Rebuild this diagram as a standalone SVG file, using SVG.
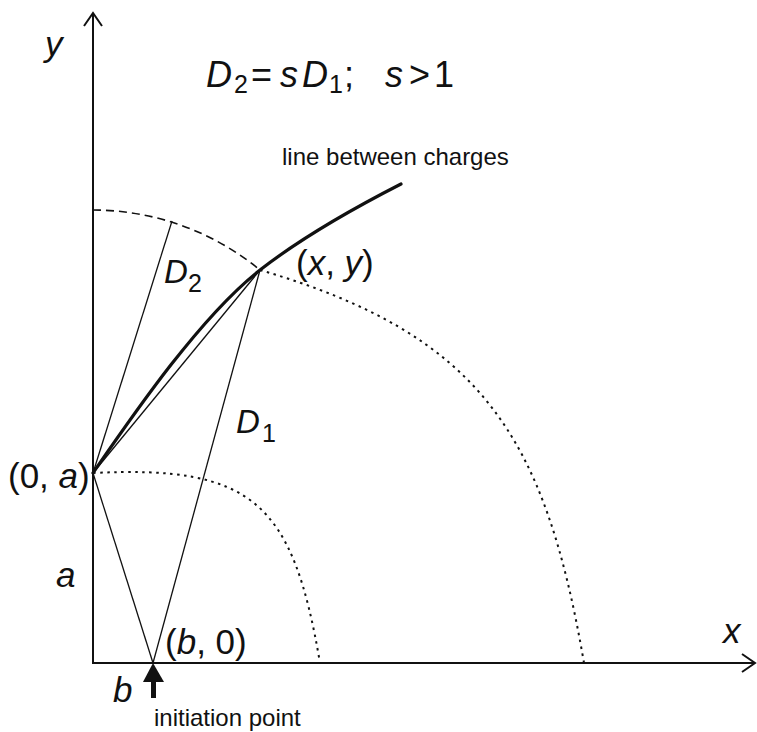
<svg xmlns="http://www.w3.org/2000/svg" width="757" height="732" viewBox="0 0 757 732">
<style>
text{font-family:"Liberation Sans",Arial,sans-serif;fill:#111}
.lab{font-size:35px}
.f{font-size:36px}
.g{font-size:33px}
.sub{font-size:25px;font-style:normal}
.i{font-style:italic}
.note{font-size:24px}
.axis{stroke:#111;stroke-width:2;fill:none}
.thin{stroke:#111;stroke-width:1.3;fill:none}
.thick{stroke:#111;stroke-width:3.2;fill:none;stroke-linecap:round}
.dot{stroke:#111;stroke-width:2;fill:none;stroke-dasharray:2.5 4.5}
.dash{stroke:#111;stroke-width:1.6;fill:none;stroke-dasharray:8 5}
</style>
<defs>
<marker id="open" markerUnits="userSpaceOnUse" viewBox="0 0 14 20" refX="13" refY="10" markerWidth="14" markerHeight="20" orient="auto" overflow="visible">
<path d="M0,1 L13,10 L0,19" fill="none" stroke="#111" stroke-width="2"/>
</marker>
</defs>
<rect width="757" height="732" fill="#fff"/>
<g id="axes">
<line class="axis" x1="93" y1="663" x2="93" y2="13" marker-end="url(#open)"/>
<line class="axis" x1="92" y1="663" x2="755" y2="663" marker-end="url(#open)"/>
</g>
<g id="arcs">
<path id="arc-D2" class="dash" d="M93,210 A263,263 0 0 1 260,270"/>
<path id="arc-D1" class="dot" d="M260,270 C481.7,334.7 545,436.5 584,663"/>
<path id="arc-inner" class="dot" d="M93,473 C253,465 292.8,503 320,663"/>
</g>
<g id="connectors">
<line class="thin" x1="93" y1="473" x2="172" y2="221"/>
<line class="thin" x1="93" y1="473" x2="260" y2="270"/>
<line class="thin" x1="93" y1="473" x2="153" y2="663"/>
<line class="thin" x1="153" y1="663" x2="260" y2="270"/>
<path id="charge-line" class="thick" d="M93,473 C133,415 200,317 260,270 C305,235 356,207 401,184"/>
</g>
<g id="initiation-arrow">
<polygon points="153,663 143,682 164,682" fill="#111"/>
<rect x="151" y="681" width="5" height="17" fill="#111"/>
</g>
<g id="labels">
<text class="lab i" x="45" y="56">y</text>
<text class="lab i" x="723" y="643">x</text>
<text class="f" y="87"><tspan x="206" class="i">D</tspan><tspan x="234" dy="6" class="sub">2</tspan><tspan x="251" dy="-6">=</tspan><tspan x="280" class="i">s</tspan><tspan x="302" class="i">D</tspan><tspan x="329" dy="6" class="sub">1</tspan><tspan x="344" dy="-6">;</tspan><tspan x="385" class="i">s</tspan><tspan x="409">&gt;</tspan><tspan x="434">1</tspan></text>
<text class="note" x="282" y="165">line between charges</text>
<text class="lab" x="296" y="275">(<tspan class="i">x</tspan>, <tspan class="i">y</tspan>)</text>
<text class="g" y="283"><tspan x="164" class="i">D</tspan><tspan x="188" dy="9" class="sub">2</tspan></text>
<text class="g" y="433"><tspan x="236" class="i">D</tspan><tspan x="262" dy="9" class="sub">1</tspan></text>
<text class="lab" x="8" y="488">(0, <tspan class="i">a</tspan>)</text>
<text class="lab i" x="56" y="587">a</text>
<text class="lab" x="165" y="654">(<tspan class="i">b</tspan>, 0)</text>
<text class="lab i" x="113" y="702">b</text>
<text class="note" x="154" y="726">initiation point</text>
</g>
</svg>
